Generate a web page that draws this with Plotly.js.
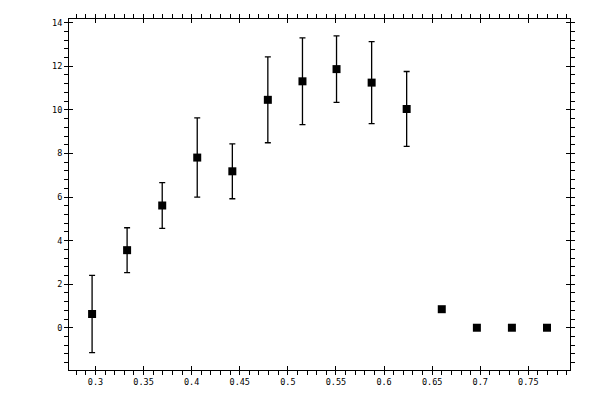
<!DOCTYPE html>
<html>
<head>
<meta charset="utf-8">
<script src="https://cdn.plot.ly/plotly-3.0.1.min.js"></script>
<style>html,body{margin:0;padding:0;background:#fff;}#chart{width:600px;height:400px;}</style>
</head>
<body>
<div id="chart"></div>
<script>
var xValues = [0.2965, 0.3329, 0.3694, 0.4058, 0.4423, 0.4792, 0.5152, 0.5506, 0.5871, 0.6235, 0.6600, 0.6965, 0.7329, 0.7694];
var yValues = [0.63, 3.56, 5.61, 7.81, 7.18, 10.46, 11.31, 11.87, 11.25, 10.04, 0.85, 0, 0, 0];
var yErrors = [1.77, 1.03, 1.05, 1.82, 1.26, 1.97, 1.99, 1.53, 1.88, 1.72, 0.05, 0, 0, 0];
var xTickVals = [0.3, 0.35, 0.4, 0.45, 0.5, 0.55, 0.6, 0.65, 0.7, 0.75];
var xTickText = ["0.3", "0.35", "0.4", "0.45", "0.5", "0.55", "0.6", "0.65", "0.7", "0.75"];
var yTickVals = [0, 2, 4, 6, 8, 10, 12, 14];
var yTickText = ["0", "2", "4", "6", "8", "10", "12", "14"];

var xRange = [0.2725, 0.7933];
var yRange = [-1.94, 14.17];
var tickFont = {family: "DejaVu Sans Mono", size: 8.5, color: "#000"};

var traces = [{
  x: xValues,
  y: yValues,
  type: "scatter",
  mode: "markers",
  marker: {symbol: "square", size: 8, color: "#000"},
  error_y: {type: "data", array: yErrors, visible: true, color: "#000", thickness: 1.3, width: 3},
  showlegend: false,
  hoverinfo: "x+y"
}];

var layout = {
  width: 600, height: 400,
  margin: {l: 69, r: 30, t: 19, b: 30},
  paper_bgcolor: "#fff", plot_bgcolor: "#fff",
  showlegend: false,
  xaxis: {
    range: xRange, showgrid: false, zeroline: false,
    showline: true, linecolor: "#000", linewidth: 1, mirror: "allticks",
    tickmode: "array", tickvals: xTickVals, ticktext: xTickText,
    ticks: "outside", ticklen: 4, tickwidth: 1, tickcolor: "#000",
    minor: {dtick: 0.01, tick0: 0, ticks: "outside", ticklen: 4, tickwidth: 1, tickcolor: "#000", showgrid: false},
    tickfont: tickFont
  },
  yaxis: {
    range: yRange, showgrid: false, zeroline: false,
    showline: true, linecolor: "#000", linewidth: 1, mirror: "allticks",
    tickmode: "array", tickvals: yTickVals, ticktext: yTickText,
    ticks: "outside", ticklen: 4, tickwidth: 1, tickcolor: "#000",
    minor: {dtick: 0.4, tick0: 0, ticks: "outside", ticklen: 4, tickwidth: 1, tickcolor: "#000", showgrid: false},
    tickfont: tickFont
  },
  xaxis2: {
    overlaying: "x", range: xRange, showgrid: false, zeroline: false,
    showline: false, mirror: "ticks", tickmode: "array", tickvals: xTickVals,
    ticks: "inside", ticklen: 4, tickwidth: 1, tickcolor: "#000",
    showticklabels: false
  },
  yaxis2: {
    overlaying: "y", range: yRange, showgrid: false, zeroline: false,
    showline: false, mirror: "ticks", tickmode: "array", tickvals: yTickVals,
    ticks: "inside", ticklen: 4, tickwidth: 1, tickcolor: "#000",
    showticklabels: false
  }
};

traces.push({x: [xRange[0]], y: [yRange[0]], xaxis: "x2", yaxis: "y2", type: "scatter", mode: "markers", marker: {opacity: 0}, hoverinfo: "skip", showlegend: false});

Plotly.newPlot("chart", traces, layout, {displayModeBar: false, staticPlot: true});
</script>
</body>
</html>
